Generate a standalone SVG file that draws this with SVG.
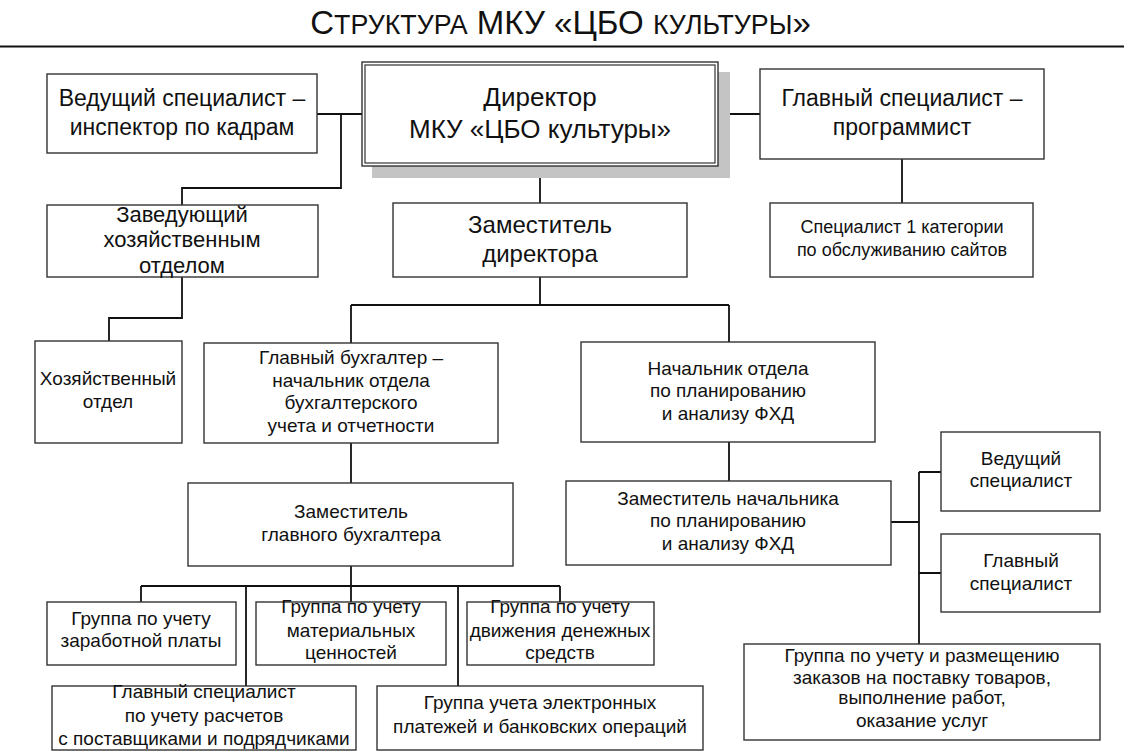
<svg xmlns="http://www.w3.org/2000/svg" width="1124" height="751" viewBox="0 0 1124 751">
<style>
text{font-family:"Liberation Sans",Arial,sans-serif;fill:#111;text-anchor:middle}
.box{fill:#fff;stroke:#333;stroke-width:1.4}
.ln{fill:none;stroke:#111;stroke-width:1.8}
.f26{font-size:26px}.f23{font-size:23px}.f22{font-size:22px}.f24{font-size:24px}.f19{font-size:19px}.f18{font-size:18px}
</style>
<rect width="1124" height="751" fill="#fff"/>
<text x="560.5" y="34" style="font-size:33px">С<tspan style="font-size:26.8px">ТРУКТУРА</tspan> МКУ «ЦБО <tspan style="font-size:26.8px">КУЛЬТУРЫ</tspan>»</text>
<line x1="0" y1="46.5" x2="1124" y2="46.5" stroke="#111" stroke-width="2"/>
<g id="connectors">
<path class="ln" d="M317 114H362M341 114V188H182V205M718 114H760M540 166V203M902 159V203"/>
<path class="ln" d="M182 277V318H109V341M540 277V305M351 305H729M351 305V343M729 305V342"/>
<path class="ln" d="M351 443V483M729 442V481M351 566V602M141 586H560M141 586V602M246 586V686M458 586V686M560 586V602"/>
<path class="ln" d="M891 522H919M919 472V644M919 472H941M919 573H941"/>
</g>
<g id="n-inspector"><rect class="box" x="47" y="74" width="270" height="79"/><text class="f23" x="182" y="106">Ведущий специалист –</text><text class="f23" x="182" y="135">инспектор по кадрам</text></g>
<g id="n-director"><rect x="372" y="72" width="358" height="106" fill="#c4c4c4"/><rect class="box" x="362" y="62" width="356" height="104"/><rect x="365" y="65" width="350" height="98" fill="none" stroke="#333" stroke-width="1.2"/><text class="f26" x="540" y="106">Директор</text><text class="f26" x="540" y="138">МКУ «ЦБО культуры»</text></g>
<g id="n-programmer"><rect class="box" x="760" y="69" width="284" height="90"/><text class="f23" x="902" y="106">Главный специалист –</text><text class="f23" x="902" y="135">программист</text></g>
<g id="n-household-head"><rect class="box" x="47" y="205" width="271" height="72"/><text class="f22" x="182" y="222">Заведующий</text><text class="f22" x="182" y="247">хозяйственным</text><text class="f22" x="182" y="273">отделом</text></g>
<g id="n-deputy"><rect class="box" x="393" y="203" width="294" height="74"/><text class="f24" x="540" y="233">Заместитель</text><text class="f24" x="540" y="262">директора</text></g>
<g id="n-sites"><rect class="box" x="770" y="203" width="263" height="74"/><text class="f18" x="902" y="233">Специалист 1 категории</text><text class="f18" x="902" y="256">по обслуживанию сайтов</text></g>
<g id="n-household"><rect class="box" x="35" y="341" width="147" height="102"/><text class="f19" x="108" y="385">Хозяйственный</text><text class="f19" x="108" y="408">отдел</text></g>
<g id="n-chief-accountant"><rect class="box" x="204" y="343" width="294" height="100"/><text class="f19" x="351" y="364">Главный бухгалтер –</text><text class="f19" x="351" y="387">начальник отдела</text><text class="f19" x="351" y="409">бухгалтерского</text><text class="f19" x="351" y="432">учета и отчетности</text></g>
<g id="n-planning-head"><rect class="box" x="581" y="342" width="294" height="100"/><text class="f19" x="728" y="375">Начальник отдела</text><text class="f19" x="728" y="397">по планированию</text><text class="f19" x="728" y="420">и анализу ФХД</text></g>
<g id="n-deputy-accountant"><rect class="box" x="188" y="483" width="325" height="83"/><text class="f19" x="351" y="518">Заместитель</text><text class="f19" x="351" y="541">главного бухгалтера</text></g>
<g id="n-planning-deputy"><rect class="box" x="566" y="481" width="325" height="84"/><text class="f19" x="728" y="505">Заместитель начальника</text><text class="f19" x="728" y="527">по планированию</text><text class="f19" x="728" y="550">и анализу ФХД</text></g>
<g id="n-lead-spec"><rect class="box" x="941" y="432" width="159" height="79"/><text class="f19" x="1021" y="465">Ведущий</text><text class="f19" x="1021" y="487">специалист</text></g>
<g id="n-main-spec"><rect class="box" x="941" y="534" width="159" height="78"/><text class="f19" x="1021" y="567">Главный</text><text class="f19" x="1021" y="590">специалист</text></g>
<g id="n-salary"><rect class="box" x="47" y="602" width="189" height="63"/><text class="f19" x="141" y="625">Группа по учету</text><text class="f19" x="141" y="647">заработной платы</text></g>
<g id="n-materials"><rect class="box" x="256" y="602" width="190" height="63"/><text class="f19" x="351" y="613">Группа по учету</text><text class="f19" x="351" y="637">материальных</text><text class="f19" x="351" y="659">ценностей</text></g>
<g id="n-cash"><rect class="box" x="467" y="602" width="187" height="63"/><text class="f19" x="560" y="613">Группа по учету</text><text class="f19" x="560" y="637">движения денежных</text><text class="f19" x="560" y="659">средств</text></g>
<g id="n-suppliers"><rect class="box" x="52" y="686" width="304" height="64"/><text class="f19" x="204" y="698">Главный специалист</text><text class="f19" x="204" y="722">по учету расчетов</text><text class="f19" x="204" y="745">с поставщиками и подрядчиками</text></g>
<g id="n-electronic"><rect class="box" x="377" y="686" width="326" height="64"/><text class="f19" x="540" y="709">Группа учета электронных</text><text class="f19" x="540" y="733">платежей и банковских операций</text></g>
<g id="n-orders"><rect class="box" x="744" y="644" width="356" height="96"/><text class="f19" x="922" y="662">Группа по учету и размещению</text><text class="f19" x="922" y="684">заказов на поставку товаров,</text><text class="f19" x="922" y="704">выполнение работ,</text><text class="f19" x="922" y="727">оказание услуг</text></g>
</svg>
